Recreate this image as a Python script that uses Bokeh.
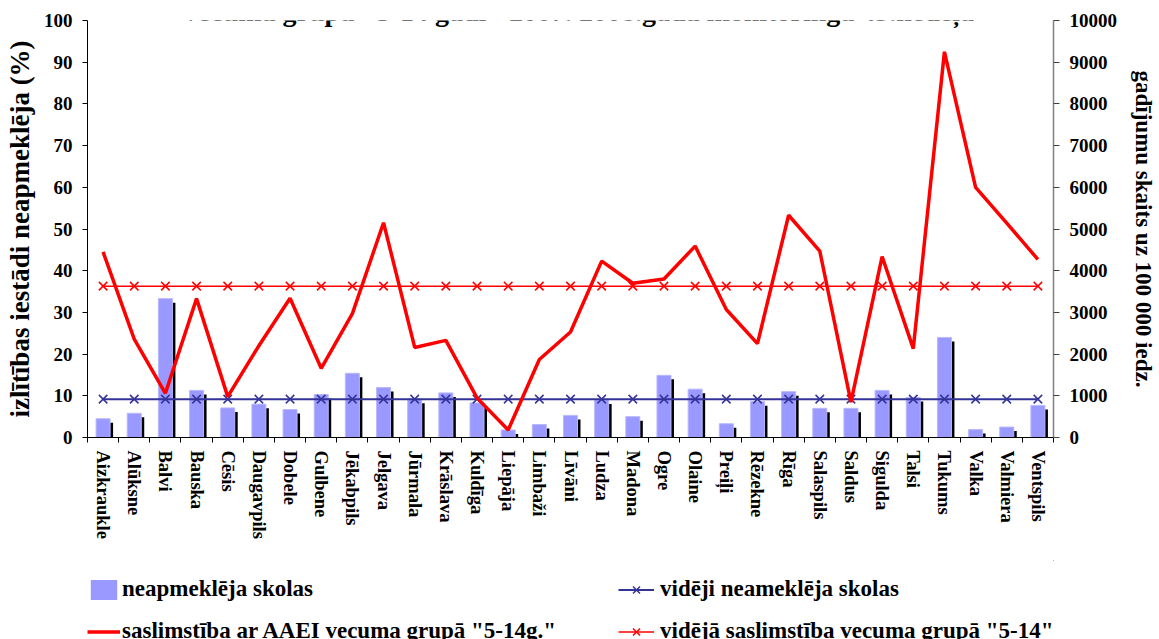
from bokeh.plotting import figure
from bokeh.layouts import column
from bokeh.models import Range1d, LinearAxis, FixedTicker, Legend, LegendItem, Label, ColumnDataSource
from bokeh.transform import dodge
from bokeh.embed import file_html
from bokeh.resources import INLINE

districts = ["Aizkraukle", "Alūksne", "Balvi", "Bauska", "Cēsis", "Daugavpils", "Dobele",
             "Gulbene", "Jēkabpils", "Jelgava", "Jūrmala", "Krāslava", "Kuldīga", "Liepāja",
             "Limbaži", "Līvāni", "Ludza", "Madona", "Ogre", "Olaine", "Preiļi", "Rēzekne",
             "Rīga", "Salaspils", "Saldus", "Sigulda", "Talsi", "Tukums", "Valka", "Valmiera",
             "Ventspils"]
absent_pct = [4.5, 5.8, 33.3, 11.3, 7.1, 8.0, 6.7, 10.3, 15.4, 12.0, 9.2, 10.7, 8.3, 1.8,
              3.1, 5.3, 9.0, 5.0, 14.9, 11.6, 3.3, 8.6, 11.0, 7.0, 7.0, 11.3, 9.6, 24.0, 1.9,
              2.5, 7.7]
rate_per_100k = [4450, 2360, 1060, 3330, 980, 2200, 3340, 1660, 2970, 5150, 2160, 2330, 950,
                 180, 1870, 2530, 4230, 3700, 3800, 4590, 3070, 2250, 5330, 4470, 850, 4340,
                 2130, 9250, 6000, 5140, 4270]
avg_absent_pct = 9.2
avg_rate = 3630
title_text = 'vecuma grupā "5-14 gadi" 2007. 2008.gada monitoringa 43.nedēļa'
y_label_left = "izlītības iestādi neapmeklēja (%)"
y_label_right = "gadījumu skaits uz 100 000 iedz."
legend_labels = ["neapmeklēja skolas", 'saslimstība ar AAEI vecuma grupā "5-14g."',
                 "vidēji neameklēja skolas", 'vidējā saslimstība vecuma grupā "5-14"']

FONT = "Liberation Serif"
BAR = "#9999FF"
AVG_BLUE = "#333399"
RED = "#FF0000"
n = len(districts)
xs = [i + 0.5 for i in range(n)]
src = ColumnDataSource(dict(x=xs, absent=absent_pct, rate=rate_per_100k,
                            avg_absent=[avg_absent_pct] * n, avg_rate=[avg_rate] * n))

p = figure(width=1159, height=560, output_backend="svg", toolbar_location=None,
           x_range=Range1d(0, n), y_range=Range1d(0, 100),
           min_border_left=87, min_border_right=103, min_border_top=20, min_border_bottom=123)
p.extra_y_ranges = {"rate": Range1d(0, 10000), "shadow": Range1d(0.96, 100.96)}
p.xgrid.visible = False
p.ygrid.visible = False
p.outline_line_color = None

# bars with shadow
p.vbar(x=dodge("x", 0.096), top="absent", bottom=0, width=0.45, source=src,
       y_range_name="shadow", fill_color="black", line_color=None)
p.vbar(x="x", top="absent", bottom=0, width=0.45, source=src,
       fill_color=BAR, line_color="#B8B8FF", line_width=1)

# average absence
p.line("x", "avg_absent", source=src, line_color=AVG_BLUE, line_width=2)
p.scatter("x", "avg_absent", source=src, marker="x", size=12, line_color=AVG_BLUE, line_width=1.5)

# rate line and its average
p.line("x", "rate", source=src, y_range_name="rate", line_color=RED, line_width=3.5)
p.line("x", "avg_rate", source=src, y_range_name="rate", line_color=RED, line_width=1.5)
p.scatter("x", "avg_rate", source=src, y_range_name="rate", marker="x", size=12,
          line_color=RED, line_width=1.5)

def style_axis(ax):
    ax.major_label_text_font = FONT
    ax.major_label_text_font_style = "bold"
    ax.major_label_text_font_size = "19px"
    ax.major_label_text_color = "black"
    ax.axis_label_text_font = FONT
    ax.axis_label_text_font_style = "bold"
    ax.axis_label_text_color = "black"
    ax.minor_tick_line_color = None

# left axis
ly = p.yaxis[0]
style_axis(ly)
ly.ticker = FixedTicker(ticks=list(range(0, 101, 10)))
ly.axis_line_color = "black"
ly.major_tick_line_color = "black"
ly.major_tick_out = 5
ly.major_tick_in = 0
ly.major_label_standoff = 10
ly.axis_label = y_label_left
ly.axis_label_text_font_size = "27px"
ly.axis_label_standoff = 6

# right axis
ry = LinearAxis(y_range_name="rate", ticker=FixedTicker(ticks=list(range(0, 10001, 1000))))
style_axis(ry)
ry.axis_line_color = "#808080"
ry.axis_line_width = 1.5
ry.major_tick_line_color = "#404040"
ry.major_tick_out = 6
ry.major_tick_in = 0
ry.major_label_standoff = 10
ry.axis_label = y_label_right
ry.axis_label_text_font_size = "23px"
ry.axis_label_standoff = 11
p.add_layout(ry, "right")

# bottom axis
bx = p.xaxis[0]
style_axis(bx)
bx.ticker = FixedTicker(ticks=xs, minor_ticks=list(range(n + 1)))
bx.major_label_overrides = {x: d for x, d in zip(xs, districts)}
bx.major_label_orientation = "vertical"
bx.major_label_text_font_size = "18.5px"
bx.major_tick_line_color = None
bx.major_tick_out = 5
bx.major_label_standoff = 8
bx.minor_tick_line_color = "black"
bx.minor_tick_out = 5
bx.minor_tick_in = 0
bx.axis_line_color = "black"

# title (cut at the top edge, as in the source image)
p.add_layout(Label(x=15.77, y=102.2, text=title_text, text_align="center",
                   text_baseline="alphabetic", text_font=FONT, text_font_style="bold",
                   text_font_size="28px", text_color="black"))

# legend strip below the chart (its frame is aligned with the chart's frame);
# the legend renderers draw the same data, but far outside this strip's ranges
lf = figure(width=1159, height=79, output_backend="svg", toolbar_location=None,
            x_range=Range1d(-1000, -999), y_range=Range1d(-1000, -999), min_border=0,
            x_axis_location=None, y_axis_location=None)
lf.extra_y_ranges = {"rate": Range1d(-100000, -99999)}
lf.xgrid.visible = False
lf.ygrid.visible = False
lf.outline_line_color = None
r_bar = lf.vbar(x="x", top="absent", bottom=0, width=0.45, source=src, fill_color=BAR, line_color=None)
r_rate = lf.line("x", "rate", source=src, y_range_name="rate", line_color=RED, line_width=3.5)
r_avg_b = lf.line("x", "avg_absent", source=src, line_color=AVG_BLUE, line_width=2)
r_avg_bm = lf.scatter("x", "avg_absent", source=src, marker="x", size=12,
                      line_color=AVG_BLUE, line_width=1.5)
r_avg_r = lf.line("x", "avg_rate", source=src, y_range_name="rate", line_color=RED, line_width=1.5)
r_avg_rm = lf.scatter("x", "avg_rate", source=src, y_range_name="rate", marker="x", size=12,
                      line_color=RED, line_width=1.5)

def make_legend(items, loc, gw, standoff):
    return Legend(items=items, location=loc, orientation="vertical",
                  glyph_width=gw, glyph_height=25, label_standoff=standoff, spacing=16,
                  padding=0, margin=0, border_line_color=None, background_fill_alpha=0,
                  label_text_font=FONT, label_text_font_style="bold", label_text_color="black",
                  label_text_font_size="23px", label_height=20)

lg1 = make_legend([LegendItem(label=legend_labels[0], renderers=[r_bar]),
                   LegendItem(label=legend_labels[1], renderers=[r_rate])],
                  (0, -5), 33, 2)
lg2 = make_legend([LegendItem(label=legend_labels[2], renderers=[r_avg_b, r_avg_bm]),
                   LegendItem(label=legend_labels[3], renderers=[r_avg_r, r_avg_rm])],
                  (531, -5), 36, 6)
lf.add_layout(lg1, "center")
lf.add_layout(lg2, "center")

layout = column(p, lf, spacing=0)
open("out.html", "w").write(file_html(layout, INLINE))
